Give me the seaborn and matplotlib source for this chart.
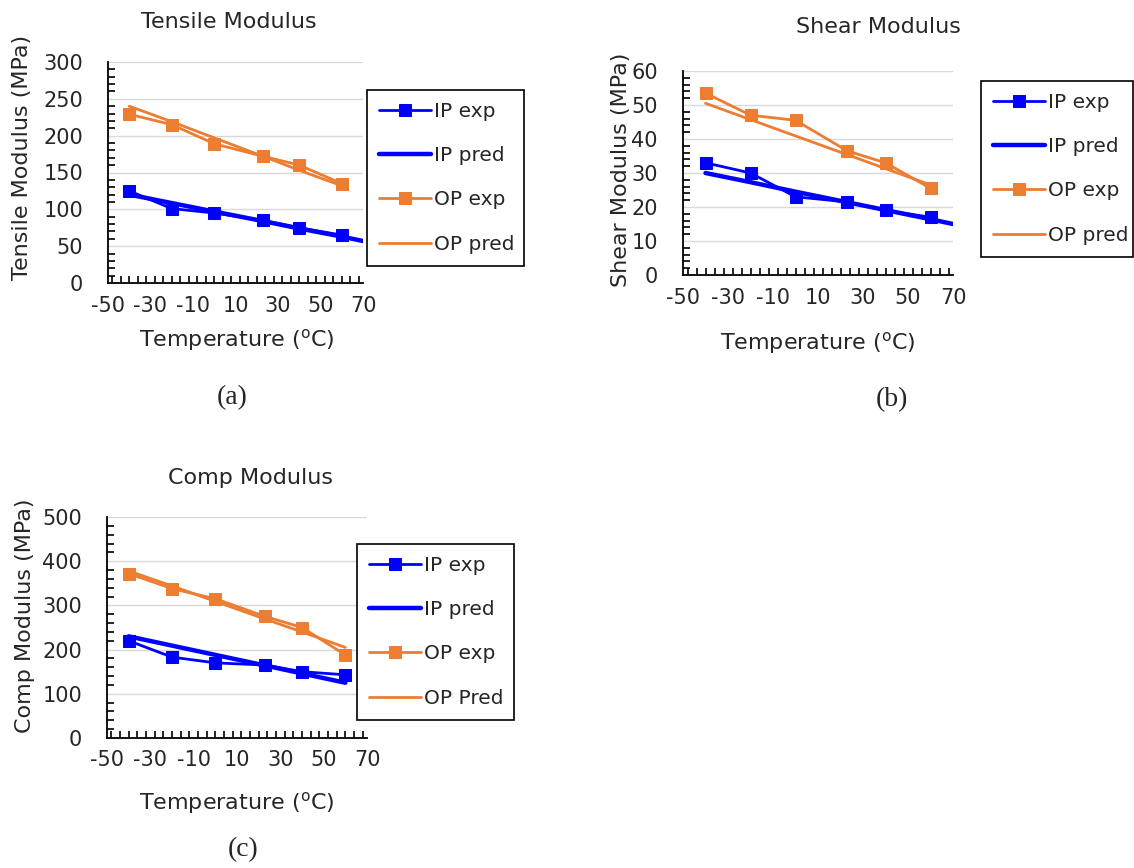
import numpy as np
import pandas as pd
import matplotlib
matplotlib.use("Agg")
import matplotlib.pyplot as plt
import seaborn as sns
from matplotlib.ticker import MultipleLocator

sns.set_style("white")
plt.rcParams['font.family'] = ['DejaVu Sans']
plt.rcParams['axes.unicode_minus'] = False

# ---------------- data ----------------
temps = [-40, -20, 0, 23, 40, 60]
pred_temps_ip = [-40, -20, 0, 23, 40, 60, 70]
pred_temps_op = [-40, -20, 0, 23, 40, 60]

tensile_ip_exp = [125, 101, 95, 85, 75, 65]
tensile_ip_pred = [120, 108.5, 97, 84, 74, 63, 57]
tensile_op_exp = [229, 215, 189, 172, 160, 135]
tensile_op_pred = [240, 219, 197, 172, 153, 132]

shear_ip_exp = [33, 30, 23, 21.5, 19, 17]
shear_ip_pred = [30, 27.3, 24.5, 21.4, 19.1, 16.4, 15]
shear_op_exp = [53.5, 47, 45.5, 36.5, 33, 25.5]
shear_op_pred = [50.5, 45.7, 40.9, 35.4, 31.3, 26.5]

comp_ip_exp = [220, 183, 170, 165, 150, 143]
comp_ip_pred = [230, 209, 188, 164, 146, 125]
comp_op_exp = [372, 338, 315, 275, 250, 188]
comp_op_pred = [378, 344, 309, 269, 240, 205]
comp_pred_temps = [-40, -20, 0, 23, 40, 60]

labels_ab = ["IP exp", "IP pred", "OP exp", "OP pred"]
labels_c = ["IP exp", "IP pred", "OP exp", "OP Pred"]

BLUE = "#0000FF"
ORANGE = "#ED7D31"
TXT = "#262626"

W, H = 1134, 868
fig = plt.figure(figsize=(W / 100, H / 100), dpi=100)


def px_axes(x0, x1, y0, y1):
    # y0 = pixel of bottom (value 0), y1 = pixel of top
    return fig.add_axes([x0 / W, 1 - y0 / H, (x1 - x0) / W, (y0 - y1) / H])


def draw_panel(ax, ipx_pred, opx_pred, ip_exp, ip_pred, op_exp, op_pred,
               ymax, ystep, yminor, labels):
    sns.lineplot(x=temps, y=ip_exp, ax=ax, color=BLUE, lw=2, marker='s',
                 markersize=8.5, markeredgecolor=BLUE, label=labels[0])
    sns.lineplot(x=ipx_pred, y=ip_pred, ax=ax, color=BLUE, lw=3.2,
                 label=labels[1])
    sns.lineplot(x=temps, y=op_exp, ax=ax, color=ORANGE, lw=2, marker='s',
                 markersize=8.5, markeredgecolor=ORANGE, label=labels[2])
    sns.lineplot(x=opx_pred, y=op_pred, ax=ax, color=ORANGE, lw=2,
                 label=labels[3])
    ax.set_xlim(-50, 70)
    ax.set_ylim(0, ymax)
    ax.set_xticks(np.arange(-50, 71, 20))
    ax.set_yticks(np.arange(0, ymax + 1, ystep))
    ax.xaxis.set_minor_locator(MultipleLocator(4))
    ax.yaxis.set_minor_locator(MultipleLocator(yminor))
    ax.tick_params(axis='both', which='major', labelsize=15, length=12,
                   width=1.2, direction='inout', color='black', pad=3,
                   labelcolor=TXT)
    ax.tick_params(axis='y', which='major', pad=12)
    ax.tick_params(axis='x', which='minor', length=5, width=1.2,
                   direction='in', color='black', bottom=True)
    ax.tick_params(axis='y', which='minor', length=5, width=1.2,
                   direction='in', color='black', left=True)
    for s in ['top', 'right']:
        ax.spines[s].set_visible(False)
    for s in ['left', 'bottom']:
        ax.spines[s].set_color('black')
        ax.spines[s].set_linewidth(1.3)
    ax.yaxis.grid(True, color='#d9d9d9', lw=1)
    ax.set_axisbelow(True)
    ax.set_xlabel("")
    ax.set_ylabel("")
    ax.get_legend().remove()


def add_legend(ax, x0, y0, x1, y1):
    h, l = ax.get_legend_handles_labels()
    leg = fig.legend(h, l, loc='upper left',
                     bbox_to_anchor=(x0 / W, 1 - y1 / H, (x1 - x0) / W, (y1 - y0) / H),
                     mode='expand', fontsize=14.5, frameon=True, fancybox=False,
                     edgecolor='black', framealpha=1, handlelength=2.6,
                     handletextpad=0.15, labelspacing=1.25, borderpad=0.6,
                     borderaxespad=0, labelcolor=TXT)
    leg.get_frame().set_linewidth(1.2)
    return leg


# Panel (a)
ax_a = px_axes(108, 363, 283, 62)
draw_panel(ax_a, pred_temps_ip, pred_temps_op, tensile_ip_exp, tensile_ip_pred,
           tensile_op_exp, tensile_op_pred, 300, 50, 10, labels_ab)
add_legend(ax_a, 367, 90, 524, 272)

# Panel (b)
ax_b = px_axes(683, 953, 275, 71)
draw_panel(ax_b, pred_temps_ip, pred_temps_op, shear_ip_exp, shear_ip_pred,
           shear_op_exp, shear_op_pred, 60, 10, 2, labels_ab)
add_legend(ax_b, 981, 81, 1133, 262)

# Panel (c)
ax_c = px_axes(107, 367, 738, 517)
draw_panel(ax_c, comp_pred_temps, comp_pred_temps, comp_ip_exp, comp_ip_pred,
           comp_op_exp, comp_op_pred, 500, 100, 20, labels_c)
add_legend(ax_c, 357, 544, 514, 723)


def ftext(x, y, s, **kw):
    fig.text(x / W, 1 - y / H, s, ha='center', va='center', color=TXT, **kw)


deg = r"Temperature ($^{\mathrm{o}}$C)"
# titles
ftext(229, 22, "Tensile Modulus", fontsize=16)
ftext(878, 27, "Shear Modulus", fontsize=16)
ftext(251, 478, "Comp Modulus", fontsize=16)
# x labels
ftext(237, 340, deg, fontsize=16)
ftext(818, 343, deg, fontsize=16)
ftext(237, 803, deg, fontsize=16)
# y labels
ftext(22, 157, "Tensile Modulus (MPa)", fontsize=16, rotation=90)
ftext(621, 170, "Shear Modulus (MPa)", fontsize=16, rotation=90)
ftext(25, 616, "Comp Modulus (MPa)", fontsize=16, rotation=90)
# captions
serif = ['Liberation Serif', 'DejaVu Serif']
ftext(232, 398, "(a)", fontsize=20, family=serif)
ftext(892, 400, "(b)", fontsize=20, family=serif)
ftext(243, 850, "(c)", fontsize=20, family=serif)

fig.savefig("out.png", dpi=100)
